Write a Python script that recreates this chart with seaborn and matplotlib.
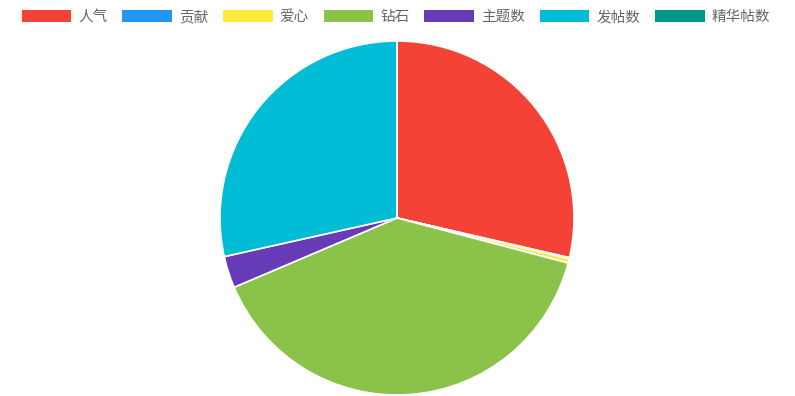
import matplotlib
matplotlib.use("Agg")
import matplotlib.pyplot as plt
from matplotlib.patches import Patch
import seaborn as sns

labels = ["人气", "贡献", "爱心", "钻石", "主题数", "发帖数", "精华帖数"]
values = [286, 1, 4, 395, 29, 285, 0]
colors = ["#F44336", "#2196F3", "#FFEB3B", "#8BC34A", "#673AB7", "#00BCD4", "#009688"]

sns.set_theme(style="white")
plt.rcParams['font.family'] = ['Noto Sans CJK SC', 'DejaVu Sans']

W, H = 795, 396
fig = plt.figure(figsize=(W / 100, H / 100), dpi=100)
cx, cy, r = 397, 218, 177
ax = fig.add_axes([(cx - r) / W, (H - cy - r) / H, 2 * r / W, 2 * r / H])
ax.pie(values, colors=colors, startangle=90, counterclock=False,
       wedgeprops=dict(edgecolor="white", linewidth=1.2))
ax.set_xlim(-1, 1)
ax.set_ylim(-1, 1)
ax.set_aspect("equal")
ax.axis("off")

handles = [Patch(facecolor=c, edgecolor="none") for c in colors]
fig.legend(handles, labels, loc="center", bbox_to_anchor=(396 / W, 1 - 17 / H), ncol=7,
           frameon=False, fontsize=10.5, handlelength=3.4, handleheight=0.95,
           handletextpad=0.5, columnspacing=1.0, labelcolor="#666666")

fig.savefig("out.png", dpi=100)
